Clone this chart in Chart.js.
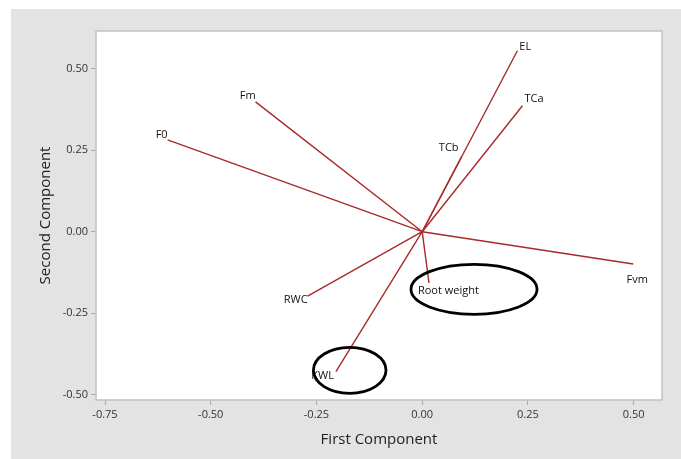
<!DOCTYPE html>
<html><head><meta charset="utf-8">
<script src="https://cdn.jsdelivr.net/npm/chart.js@4.4.1/dist/chart.umd.min.js"></script>
<style>html,body{margin:0;padding:0;background:#fff;}</style>
</head><body>
<canvas id="c" width="681" height="459" style="display:block;width:681px;height:459px"></canvas>
<script>
// ---- data ----
const variables = ['F0', 'Fm', 'EL', 'TCa', 'TCb', 'Fvm', 'Root weight', 'RWC', 'KWL'];
const pc1 = [-0.602, -0.394, 0.225, 0.237, 0.093, 0.499, 0.016, -0.271, -0.204];
const pc2 = [0.282, 0.399, 0.556, 0.387, 0.230, -0.099, -0.157, -0.198, -0.430];
const xTicks = [-0.75, -0.50, -0.25, 0.00, 0.25, 0.50];
const yTicks = [-0.50, -0.25, 0.00, 0.25, 0.50];
// hand-drawn highlight ellipses (data units)
const ellipseX = [0.1225, -0.1714];
const ellipseY = [-0.177, -0.4258];
const ellipseRX = [0.149, 0.0858];
const ellipseRY = [0.0768, 0.0707];

// ---- label placement (pixel offsets from the loading point) ----
const labelPlacement = {
  'F0': {align: 'right', dx: 0, dy: -5},
  'Fm': {align: 'right', dx: 0, dy: -6},
  'EL': {align: 'left', dx: 2, dy: -4},
  'TCa': {align: 'left', dx: 2, dy: -7},
  'TCb': {align: 'right', dx: -3, dy: -9},
  'Fvm': {align: 'center', dx: 4, dy: 16},
  'Root weight': {align: 'left', dx: -11, dy: 8},
  'RWC': {align: 'right', dx: 0, dy: 4},
  'KWL': {align: 'right', dx: -2, dy: 4}
};

const FONT = "'Open Sans', 'DejaVu Sans', sans-serif";
const lineColor = 'rgb(168,42,42)';

const datasets = variables.map((name, i) => ({
  label: name,
  data: [{x: 0, y: 0}, {x: pc1[i], y: pc2[i]}],
  showLine: true,
  borderColor: lineColor,
  borderWidth: 1.4,
  pointRadius: 0,
  fill: false
}));

const bgPlugin = {
  id: 'bg',
  beforeDraw(chart) {
    const ctx = chart.ctx, a = chart.chartArea;
    ctx.save();
    ctx.fillStyle = '#ffffff';
    ctx.fillRect(0, 0, chart.width, chart.height);
    ctx.fillStyle = '#e3e3e3';
    ctx.fillRect(11, 9, chart.width - 11, chart.height - 9);
    ctx.fillStyle = '#ffffff';
    ctx.fillRect(a.left, a.top, a.right - a.left, a.bottom - a.top);
    ctx.restore();
  },
  beforeDatasetsDraw(chart) {
    const ctx = chart.ctx, a = chart.chartArea;
    ctx.save();
    ctx.strokeStyle = '#c2c2c2';
    ctx.lineWidth = 1.5;
    ctx.strokeRect(a.left, a.top, a.right - a.left, a.bottom - a.top);
    ctx.restore();
  },
  afterDatasetsDraw(chart) {
    const ctx = chart.ctx;
    const xs = chart.scales.x, ys = chart.scales.y;
    ctx.save();
    // labels
    ctx.font = "11px " + FONT;
    ctx.fillStyle = '#111';
    ctx.textBaseline = 'middle';
    variables.forEach((name, i) => {
      const p = labelPlacement[name];
      const px = xs.getPixelForValue(pc1[i]);
      const py = ys.getPixelForValue(pc2[i]);
      ctx.textAlign = p.align;
      ctx.fillText(name, px + p.dx, py + p.dy);
    });
    // ellipses
    ctx.strokeStyle = '#000';
    ctx.lineWidth = 2.8;
    ellipseX.forEach((cx, i) => {
      const px = xs.getPixelForValue(cx);
      const py = ys.getPixelForValue(ellipseY[i]);
      const rx = Math.abs(xs.getPixelForValue(cx + ellipseRX[i]) - px);
      const ry = Math.abs(ys.getPixelForValue(ellipseY[i] + ellipseRY[i]) - py);
      ctx.beginPath();
      ctx.ellipse(px, py, rx, ry, 0, 0, Math.PI * 2);
      ctx.stroke();
    });
    ctx.restore();
  }
};

new Chart(document.getElementById('c'), {
  type: 'scatter',
  data: {datasets},
  options: {
    responsive: false,
    animation: false,
    events: [],
    layout: {padding: {left: 0, top: 31, right: 19, bottom: 0}},
    plugins: {legend: {display: false}, tooltip: {enabled: false}},
    scales: {
      x: {
        type: 'linear',
        min: -0.7713, max: 0.567,
        afterFit(s) { s.height = 59; },
        afterBuildTicks(s) { s.ticks = xTicks.map(v => ({value: v})); },
        ticks: {
          font: {family: FONT, size: 11}, color: '#333', padding: 3,
          maxRotation: 0, autoSkip: false,
          callback: v => Number(v).toFixed(2)
        },
        grid: {display: true, drawOnChartArea: false, drawTicks: true, tickLength: 5, color: '#a9a9a9'},
        border: {display: false},
        title: {display: true, text: 'First Component', color: '#222',
                font: {family: FONT, size: 15}, padding: {top: 0, bottom: 10}}
      },
      y: {
        type: 'linear',
        min: -0.517, max: 0.6166,
        afterFit(s) { s.width = 96; },
        afterBuildTicks(s) { s.ticks = yTicks.map(v => ({value: v})); },
        ticks: {
          font: {family: FONT, size: 11}, color: '#333', padding: 3,
          autoSkip: false,
          callback: v => Number(v).toFixed(2)
        },
        grid: {display: true, drawOnChartArea: false, drawTicks: true, tickLength: 5, color: '#a9a9a9'},
        border: {display: false},
        title: {display: true, text: 'Second Component', color: '#222',
                font: {family: FONT, size: 15}, padding: {top: 37, bottom: 0}}
      }
    }
  },
  plugins: [bgPlugin]
});
</script>
</body></html>
